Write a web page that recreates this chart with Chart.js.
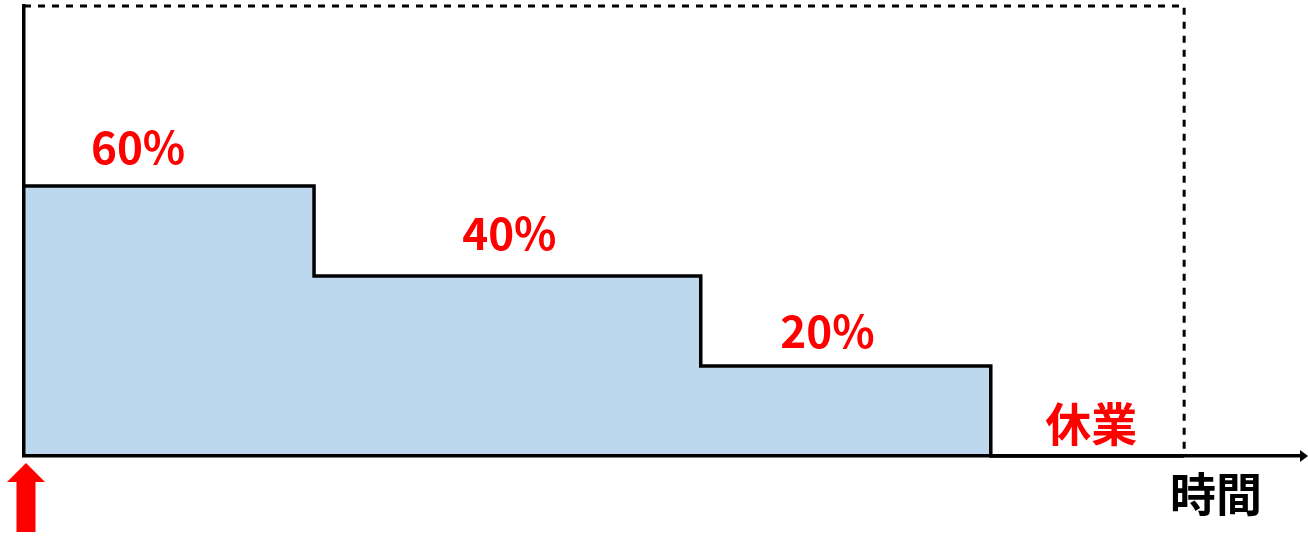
<!DOCTYPE html>
<html>
<head>
<meta charset="utf-8">
<script src="https://cdn.jsdelivr.net/npm/chart.js@4"></script>
<style>
  html, body { margin: 0; padding: 0; background: #fff; }
  #wrap { width: 1308px; height: 536px; }
</style>
</head>
<body>
<div id="wrap"><canvas id="stepChart"></canvas></div>
<script>
// step boundaries (time units) and rate (%) kept from each boundary
const stepTimes = [0, 3, 7, 10, 12];
const stepRates = [60, 40, 20, 0, 0];
// dashed outline = full (100%) level up to the end of the period
const fullTimes = [0, 12, 12];
const fullRates = [100, 100, 0];
const stepLabels = ["60%", "40%", "20%", "休業"];
const axisLabel = "時間";

const xMax = 13.25;

const toPoints = (xs, ys) => xs.map((x, i) => ({ x, y: ys[i] }));

// text + arrows on top of the chart
const decorations = {
  id: "decorations",
  afterDraw(chart) {
    const { ctx, scales: { x, y } } = chart;
    const labelPos = [[1.18, 68.6], [5.02, 49.6], [8.31, 27.8], [11.04, 7.2]];
    ctx.save();
    ctx.textAlign = "center";
    ctx.textBaseline = "middle";
    stepLabels.forEach((t, i) => {
      const cjk = /[^\x00-\x7f]/.test(t);
      ctx.font = `bold ${cjk ? 46 : 44}px "Noto Sans CJK JP", "Noto Sans", sans-serif`;
      ctx.fillStyle = "#ff0000";
      ctx.fillText(t, x.getPixelForValue(labelPos[i][0]), y.getPixelForValue(labelPos[i][1]));
    });
    ctx.font = 'bold 46px "Noto Sans CJK JP", sans-serif';
    ctx.fillStyle = "#000";
    ctx.fillText(axisLabel, x.getPixelForValue(12.33), y.getPixelForValue(0) + 38);

    // arrowhead at the end of the time axis
    const yb = y.getPixelForValue(0);
    ctx.fillStyle = "#000";
    ctx.beginPath();
    ctx.moveTo(x.right + 3, yb);
    ctx.lineTo(x.right - 5, yb - 6);
    ctx.lineTo(x.right - 5, yb + 6);
    ctx.closePath();
    ctx.fill();

    // red start marker under t = 0
    const x0 = x.getPixelForValue(0) + 2;
    ctx.fillStyle = "#ff0000";
    ctx.beginPath();
    ctx.moveTo(x0, yb + 7);
    ctx.lineTo(x0 + 19, yb + 26);
    ctx.lineTo(x0 + 9.5, yb + 26);
    ctx.lineTo(x0 + 9.5, yb + 76);
    ctx.lineTo(x0 - 9.5, yb + 76);
    ctx.lineTo(x0 - 9.5, yb + 26);
    ctx.lineTo(x0 - 19, yb + 26);
    ctx.closePath();
    ctx.fill();
    ctx.restore();
  },
};

new Chart(document.getElementById("stepChart"), {
  type: "line",
  data: {
    datasets: [
      {
        data: toPoints(stepTimes, stepRates),
        stepped: "before",
        borderColor: "#000",
        borderWidth: 3.5,
        backgroundColor: "#bdd7ee",
        fill: "origin",
        pointRadius: 0,
        clip: false,
        order: 2,
      },
      {
        data: toPoints(fullTimes, fullRates),
        borderColor: "#000",
        borderWidth: 3,
        borderDash: [7, 7],
        fill: false,
        pointRadius: 0,
        clip: false,
        order: 1,
      },
    ],
  },
  options: {
    responsive: true,
    maintainAspectRatio: false,
    animation: false,
    events: [],
    layout: { padding: { left: 24, top: 6, right: 3, bottom: 80 } },
    plugins: { legend: { display: false }, tooltip: { enabled: false } },
    scales: {
      x: {
        type: "linear",
        min: 0,
        max: xMax,
        ticks: { display: false },
        grid: { display: false, drawTicks: false },
        border: { display: true, color: "#000", width: 3.5, z: 1 },
      },
      y: {
        min: 0,
        max: 100,
        ticks: { display: false },
        grid: { display: false, drawTicks: false },
        border: { display: true, color: "#000", width: 3.5, z: 1 },
      },
    },
  },
  plugins: [decorations],
});
</script>
</body>
</html>
